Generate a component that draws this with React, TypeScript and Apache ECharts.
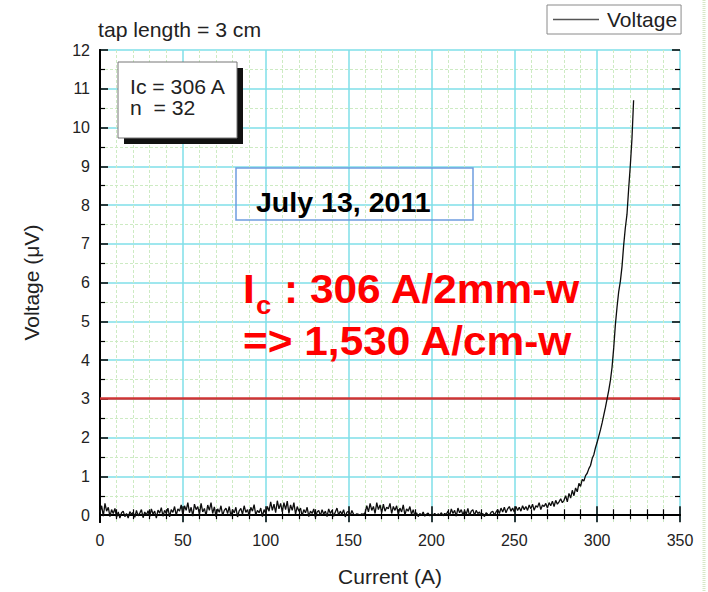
import React, { useEffect, useRef } from "react";
import * as echarts from "echarts";

const FONT = "'Liberation Sans', Arial, sans-serif";

// Baseline noise, one sample per ampere starting at 0 A (µV)
const noiseVoltage = [
  0.05, 0.22, -0.05, 0.28, 0.08, 0.18, -0.06, 0.12, 0.02, 0.15,
  -0.08, 0.06, -0.1, 0.04, 0.08, -0.06, 0.02, -0.1, 0.07, 0.0,
  0.05, -0.08, 0.1, -0.04, 0.03, 0.12, -0.09, 0.06, -0.02, 0.09,
  -0.06, 0.14, 0.0, 0.08, -0.1, 0.11, 0.03, 0.17, -0.05, 0.1,
  0.02, 0.16, -0.07, 0.12, 0.05, 0.2, -0.03, 0.14, 0.08, 0.24,
  -0.02, 0.22, 0.1, 0.3, 0.04, 0.18, -0.05, 0.26, 0.12, 0.2,
  0.0, 0.28, 0.06, 0.15, -0.04, 0.24, 0.1, 0.3, 0.02, 0.19,
  -0.06, 0.14, 0.05, 0.22, -0.03, 0.1, 0.16, 0.02, 0.2, -0.05,
  0.12, 0.04, 0.18, -0.07, 0.09, 0.15, 0.0, 0.22, 0.05, 0.12,
  -0.04, 0.18, 0.08, 0.25, -0.02, 0.1, 0.04, 0.16, -0.06, 0.12,
  0.02, 0.2, 0.08, 0.32, 0.1, 0.26, 0.04, 0.35, 0.14, 0.28,
  0.06, 0.3, 0.12, 0.34, 0.02, 0.24, 0.1, 0.3, 0.0, 0.2,
  0.08, 0.16, -0.04, 0.12, 0.04, 0.18, -0.06, 0.08, 0.02, 0.14,
  -0.08, 0.06, 0.1, -0.04, 0.12, 0.0, 0.08, -0.06, 0.14, 0.02,
  0.1, -0.05, 0.06, 0.16, -0.02, 0.08, 0.0, 0.12, -0.07, 0.05,
  0.08, -0.04, 0.1, 0.0, -0.02, 0.01, 0.0, -0.02, 0.01, 0.0,
  0.04, 0.22, 0.06, 0.28, 0.1, 0.2, 0.02, 0.3, 0.12, 0.24,
  0.04, 0.26, 0.08, 0.18, 0.14, 0.28, 0.02, 0.2, 0.1, 0.22,
  0.0, 0.16, 0.06, 0.24, -0.02, 0.14, 0.08, 0.2, 0.0, 0.12,
  -0.04, 0.04, -0.06, 0.02, -0.03, 0.06, -0.05, 0.0, 0.03, -0.04,
  0.0, -0.02, 0.02, -0.03, 0.01, -0.02, 0.04, -0.04, 0.02, 0.0,
  0.08, -0.04, 0.14, 0.02, 0.1, -0.05, 0.16, 0.04, 0.12, -0.02,
  0.1, 0.0, 0.15, -0.04, 0.08, 0.12, -0.03, 0.1, 0.02, 0.06,
  -0.04, 0.02, -0.06, 0.04, 0.0, -0.03, 0.05, 0.08, -0.02, 0.06,
  0.12, 0.02, 0.16, 0.06, 0.18, 0.04, 0.14, 0.2, 0.08, 0.16,
  0.06, 0.2, 0.1, 0.18, 0.08, 0.22, 0.12, 0.2, 0.1, 0.24,
  0.14, 0.26, 0.1, 0.22, 0.18, 0.3, 0.12, 0.24, 0.2, 0.28,
  0.16, 0.3, 0.22, 0.34, 0.2, 0.36, 0.26, 0.32, 0.4, 0.3,
];

// Transition to the resistive state (A, µV)
const riseCurrent = [
  280, 281, 282, 283, 284, 285, 286, 287, 288, 289,
  290, 291, 292, 293, 294, 295, 296, 297, 298, 299,
  300, 301, 302, 303, 304, 305, 306, 307, 308, 309,
  310, 311, 312, 313, 314, 315, 316, 317, 318, 319,
  320, 321, 322,
];
const riseVoltage = [
  0.36, 0.48, 0.32, 0.54, 0.42, 0.62, 0.48, 0.68, 0.58, 0.8,
  0.72, 0.9, 0.86, 1.0, 1.06, 1.18, 1.26, 1.44, 1.54, 1.72,
  1.86, 2.02, 2.18, 2.36, 2.56, 2.76, 2.98, 3.2, 3.46, 3.8,
  4.3, 4.9, 5.35, 5.75, 6.02, 6.4, 6.95, 7.4, 7.75, 8.4,
  9.0, 9.7, 10.7,
];

const criterionVoltage = 3; // µV, 1 µV/cm over the 3 cm tap

const X_MIN = 0;
const X_MAX = 350;
const X_STEP = 50;
const Y_MIN = 0;
const Y_MAX = 12;
const Y_STEP = 1;
const Y_PAD = 0.2; // room below zero for the negative noise

const GRID_LEFT = 100;
const GRID_TOP = 50;
const GRID_W = 580;
const GRID_H = 473;

const MAJOR = "#7fdfe8";
const MINOR = "#cdebc3";
const STRETCH = 1.06; // slide annotations are slightly widened

export default function App() {
  const ref = useRef<HTMLDivElement>(null);

  useEffect(() => {
    if (!ref.current) return;
    const chart = echarts.init(ref.current, undefined, { renderer: "svg" });

    const data: [number, number][] = [
      ...noiseVoltage.map((v, i) => [X_MIN + i, v] as [number, number]),
      ...riseCurrent.map((c, i) => [c, riseVoltage[i]] as [number, number]),
    ];

    const labelH = (GRID_H * (Y_MAX - Y_MIN)) / (Y_MAX - Y_MIN + Y_PAD);

    const tickStyle = { inside: true, length: 8, lineStyle: { color: "#000", width: 1.5 } };
    const minorStyle = { show: true, length: 5, lineStyle: { color: "#000", width: 1.2 } };

    const note = (
      text: string,
      x: number,
      y: number,
      font: string,
      fill: string,
      z: number,
      scaleX: number = STRETCH
    ) => ({
      type: "text",
      z,
      x,
      y,
      scaleX,
      style: { text, x: 0, y: 0, verticalAlign: "middle", font, fill },
    });

    chart.setOption({
      animation: false,
      backgroundColor: "#fff",
      textStyle: { fontFamily: FONT },
      legend: {
        data: [{ name: "Voltage", icon: "rect" }],
        left: 547,
        top: 5,
        padding: [4, 4, 4, 6],
        itemWidth: 46,
        itemHeight: 1.5,
        itemStyle: { color: "#555" },
        borderColor: "#8a8a8a",
        borderWidth: 1,
        textStyle: { fontSize: 21, color: "#222", fontFamily: FONT, padding: [0, 0, 0, 3] },
      },
      grid: [
        { left: GRID_LEFT, top: GRID_TOP, width: GRID_W, height: GRID_H },
        { left: GRID_LEFT, top: GRID_TOP, width: GRID_W, height: labelH },
      ],
      xAxis: [
        {
          type: "value",
          gridIndex: 0,
          min: X_MIN,
          max: X_MAX,
          interval: X_STEP,
          position: "bottom",
          name: "Current (A)",
          nameLocation: "middle",
          nameGap: 44,
          nameTextStyle: { fontSize: 21, color: "#222", fontFamily: FONT },
          axisLine: { show: true, lineStyle: { color: "#000", width: 2 } },
          axisTick: tickStyle,
          minorTick: { ...minorStyle, splitNumber: 5 },
          axisLabel: { fontSize: 16, color: "#222", margin: 10, fontFamily: FONT },
          splitLine: { show: true, lineStyle: { color: MAJOR, width: 1.5 } },
          minorSplitLine: { show: true, lineStyle: { color: MINOR, width: 1, type: [3, 2] } },
        },
        {
          type: "value",
          gridIndex: 0,
          min: X_MIN,
          max: X_MAX,
          interval: X_STEP,
          position: "top",
          axisLine: { show: true, lineStyle: { color: "#000", width: 2 } },
          axisTick: tickStyle,
          minorTick: { ...minorStyle, splitNumber: 5 },
          axisLabel: { show: false },
          splitLine: { show: false },
        },
        {
          type: "value",
          gridIndex: 1,
          min: X_MIN,
          max: X_MAX,
          show: false,
        },
      ],
      yAxis: [
        {
          type: "value",
          gridIndex: 0,
          min: Y_MIN - Y_PAD,
          max: Y_MAX,
          position: "left",
          axisLine: { show: true, lineStyle: { color: "#000", width: 2 } },
          axisTick: { show: false },
          axisLabel: { show: false },
          splitLine: { show: false },
        },
        {
          type: "value",
          gridIndex: 0,
          min: Y_MIN - Y_PAD,
          max: Y_MAX,
          position: "right",
          axisLine: { show: true, lineStyle: { color: "#000", width: 2 } },
          axisTick: { show: false },
          axisLabel: { show: false },
          splitLine: { show: false },
        },
        {
          type: "value",
          gridIndex: 1,
          min: Y_MIN,
          max: Y_MAX,
          interval: Y_STEP,
          position: "left",
          name: "Voltage (\u03bcV)",
          nameLocation: "middle",
          nameGap: 58,
          nameTextStyle: { fontSize: 21, color: "#222", fontFamily: FONT },
          axisLine: { show: false },
          axisTick: tickStyle,
          minorTick: { ...minorStyle, splitNumber: 2 },
          axisLabel: { fontSize: 16, color: "#222", margin: 10, fontFamily: FONT },
          splitLine: { show: true, lineStyle: { color: MAJOR, width: 1.5 } },
          minorSplitLine: { show: true, lineStyle: { color: MINOR, width: 1, type: [3, 2] } },
        },
        {
          type: "value",
          gridIndex: 1,
          min: Y_MIN,
          max: Y_MAX,
          interval: Y_STEP,
          position: "right",
          axisLine: { show: false },
          axisTick: tickStyle,
          minorTick: { ...minorStyle, splitNumber: 2 },
          axisLabel: { show: false },
          splitLine: { show: false },
        },
      ],
      series: [
        {
          name: "Voltage",
          type: "line",
          xAxisIndex: 0,
          yAxisIndex: 0,
          data,
          symbol: "none",
          showSymbol: false,
          lineStyle: { color: "#0d0d0d", width: 1.3 },
          itemStyle: { color: "#555" },
          z: 3,
          markLine: {
            silent: true,
            symbol: "none",
            label: { show: false },
            lineStyle: { color: "#cf3535", width: 2.5, type: "solid" },
            data: [{ yAxis: criterionVoltage }],
            z: 2,
          },
        },
      ],
      graphic: [
        note("tap length = 3 cm", 98, 30, `20px ${FONT}`, "#222", 100),
        {
          type: "rect",
          z: 100,
          shape: { x: 124, y: 68, width: 119, height: 76 },
          style: { fill: "#111" },
        },
        {
          type: "rect",
          z: 101,
          shape: { x: 118, y: 62, width: 119, height: 76 },
          style: { fill: "#fff", stroke: "#777", lineWidth: 1 },
        },
        note("Ic = 306 A", 130, 87, `20px ${FONT}`, "#222", 102),
        note("n  = 32", 130, 108, `20px ${FONT}`, "#222", 102),
        {
          type: "rect",
          z: 100,
          shape: { x: 236, y: 168, width: 237, height: 52 },
          style: { fill: "none", stroke: "#6f9de0", lineWidth: 1.5 },
        },
        note("July 13, 2011", 256, 202, `bold 28px ${FONT}`, "#000", 101, 1.02),
        note("I", 243, 289, `bold 40px ${FONT}`, "#ff0000", 101),
        note("c", 256, 305, `bold 26px ${FONT}`, "#ff0000", 101),
        note(": 306 A/2mm-w", 284, 289, `bold 40px ${FONT}`, "#ff0000", 101),
        note("=> 1,530 A/cm-w", 243, 341, `bold 40px ${FONT}`, "#ff0000", 101),
        {
          type: "line",
          z: 100,
          shape: { x1: 704, y1: 0, x2: 704, y2: 592 },
          style: { stroke: "#d6e7c6", lineWidth: 3, lineDash: [1, 1] },
        },
      ],
    });

    return () => chart.dispose();
  }, []);

  return (
    <div
      ref={ref}
      style={{ position: "fixed", left: 0, top: 0, width: 708, height: 592, background: "#fff" }}
    />
  );
}
